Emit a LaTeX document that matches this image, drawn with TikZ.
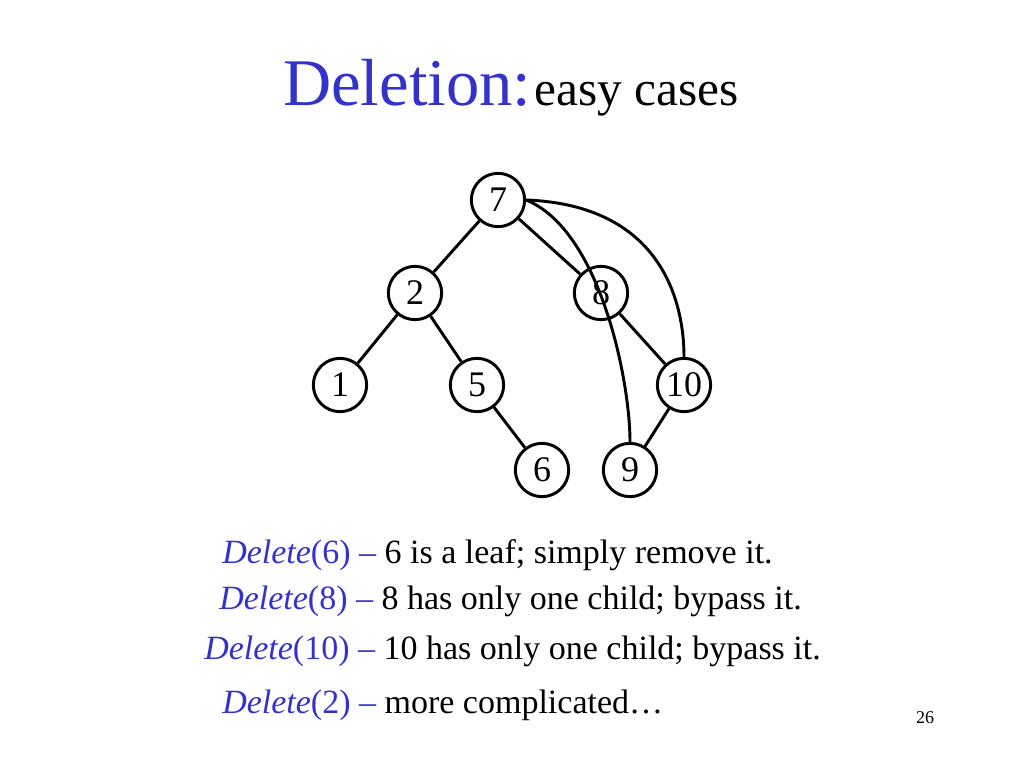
\documentclass[tikz,border=0pt]{standalone}
\usepackage{fontspec}
\setmainfont{Liberation Serif}
\definecolor{tblue}{RGB}{51,51,204}
\begin{document}
\begin{tikzpicture}[x=0.75pt,y=-0.75pt,
  tn/.style={circle,draw,line width=2.2pt,minimum size=40pt,inner sep=0pt,font=\fontsize{27}{29}\selectfont},
  ed/.style={line width=2.2pt},
  txt/.style={anchor=west,inner sep=0pt,font=\fontsize{25.5}{28}\selectfont}]
\useasboundingbox (0,0) rectangle (1024,768);
\node[inner sep=0pt] (title) at (511,88) {\textcolor{tblue}{\fontsize{50}{54}\selectfont Deletion:}\ \fontsize{37}{40}\selectfont easy cases};
\node[tn] (n7) at (498,200) {7};
\node[tn] (n2) at (415,293) {2};
\node[tn] (n8) at (601,293) {8};
\node[tn] (n1) at (340,385) {1};
\node[tn] (n5) at (477,385) {5};
\node[tn] (n10) at (684,385) {10};
\node[tn] (n6) at (542,470) {6};
\node[tn] (n9) at (630,470) {9};
\draw[ed] (n7)--(n2); \draw[ed] (n7)--(n8); \draw[ed] (n2)--(n1); \draw[ed] (n2)--(n5);
\draw[ed] (n5)--(n6); \draw[ed] (n8)--(n10); \draw[ed] (n10)--(n9);
\draw[ed] (n7.east) .. controls (660,205) and (684,300) .. (n10.north);
\draw[ed] (n7.east) .. controls (600,230) and (630,380) .. (n9.north);
\node[txt] (l1) at (222,555) {\textcolor{tblue}{\textit{Delete}(6) –} 6 is a leaf; simply remove it.};
\node[txt] (l2) at (219,601) {\textcolor{tblue}{\textit{Delete}(8) –} 8 has only one child; bypass it.};
\node[txt] (l3) at (204,651) {\textcolor{tblue}{\textit{Delete}(10) –} 10 has only one child; bypass it.};
\node[txt] (l4) at (222,705) {\textcolor{tblue}{\textit{Delete}(2) –} more complicated…};
\node[inner sep=0pt,font=\fontsize{13.5}{15}\selectfont] (pg) at (925,718) {26};
\end{tikzpicture}
\end{document}
